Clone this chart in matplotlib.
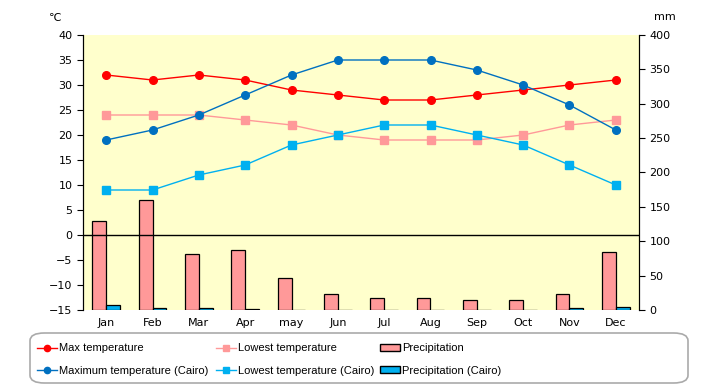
import matplotlib
matplotlib.use("Agg")
import matplotlib.pyplot as plt
import numpy as np
from matplotlib.lines import Line2D
from matplotlib.patches import Patch, FancyBboxPatch

months = ["Jan", "Feb", "Mar", "Apr", "may", "Jun", "Jul", "Aug", "Sep", "Oct", "Nov", "Dec"]
max_temp = [32, 31, 32, 31, 29, 28, 27, 27, 28, 29, 30, 31]
low_temp = [24, 24, 24, 23, 22, 20, 19, 19, 19, 20, 22, 23]
max_cairo = [19, 21, 24, 28, 32, 35, 35, 35, 33, 30, 26, 21]
low_cairo = [9, 9, 12, 14, 18, 20, 22, 22, 20, 18, 14, 10]
precip = [130, 160, 82, 87, 47, 23, 17, 18, 15, 14, 23, 84]
precip_cairo = [7, 3, 3, 1, 0, 0, 0, 0, 0, 0.5, 3, 5]

plt.rcParams['font.family'] = ['DejaVu Sans']
fig = plt.figure(figsize=(7.2, 3.85), dpi=100)
ax = fig.add_axes([83/720, 75/385, 556/720, 275/385])
ax.set_facecolor("#FFFFCC")
x = np.arange(len(months))
bw = 0.3
ax.bar(x - bw/2, precip, bw, color="#FF9999", edgecolor="black", linewidth=0.9, zorder=2)
ax.bar(x + bw/2, precip_cairo, bw, color="#00B0F0", edgecolor="black", linewidth=0.9, zorder=2)
ax.set_ylim(0, 400)
ax.set_yticks(np.arange(0, 401, 50))
ax.set_xlim(-0.5, 11.5)
ax.set_xticks(x)
ax.set_xticklabels(months, fontsize=8)
ax.tick_params(axis='x', length=0, pad=6)

ax2 = ax.twinx()
ax.yaxis.tick_right()
ax.yaxis.set_label_position('right')
ax2.yaxis.tick_left()
ax2.yaxis.set_label_position('left')
ax.tick_params(axis='y', labelsize=8, length=4, width=0.8, direction='out')
ax2.set_ylim(-15, 40)
ax2.set_yticks(np.arange(-15, 41, 5))
ax2.tick_params(axis='y', labelsize=8, length=4, width=0.8, direction='out')
ax2.axhline(0, color="black", linewidth=1, zorder=1)
ms = 5.5
ax2.plot(x, max_temp, color="#FF0000", marker="o", markersize=ms, linewidth=1.0, zorder=5)
ax2.plot(x, low_temp, color="#FF9999", marker="s", markersize=ms, linewidth=1.0, zorder=4)
ax2.plot(x, max_cairo, color="#0070C0", marker="o", markersize=ms, linewidth=1.0, zorder=5)
ax2.plot(x, low_cairo, color="#00B0F0", marker="s", markersize=ms, linewidth=1.0, zorder=4)

for a in (ax, ax2):
    a.spines['top'].set_visible(False)
    a.spines['bottom'].set_visible(False)
    a.spines['left'].set_color('black')
    a.spines['right'].set_color('black')

fig.text(55/720, 1 - 18/385, "℃", fontsize=8, ha='center', va='center')
fig.text(665/720, 1 - 17/385, "mm", fontsize=8, ha='center', va='center')

box = FancyBboxPatch((30/720, 2/385), 658/720, 50/385, transform=fig.transFigure,
                     boxstyle="round,pad=0,rounding_size=0.02", facecolor="white",
                     edgecolor="#AAAAAA", linewidth=1.2)
fig.patches.append(box)

handles = [
    Line2D([], [], color="#FF0000", marker="o", markersize=4.5, linewidth=1.0),
    Line2D([], [], color="#0070C0", marker="o", markersize=4.5, linewidth=1.0),
    Line2D([], [], color="#FF9999", marker="s", markersize=4.5, linewidth=1.0),
    Line2D([], [], color="#00B0F0", marker="s", markersize=4.5, linewidth=1.0),
    Patch(facecolor="#FF9999", edgecolor="black"),
    Patch(facecolor="#00B0F0", edgecolor="black"),
]
labels = ["Max temperature", "Maximum temperature (Cairo)", "Lowest temperature",
          "Lowest temperature (Cairo)", "Precipitation", "Precipitation (Cairo)"]
col_x = [37, 216, 380]
for i, cx in enumerate(col_x):
    fig.legend(handles[2*i:2*i+2], labels[2*i:2*i+2], loc='center left', ncol=1,
               bbox_to_anchor=(cx/720, 1 - 359.5/385),
               prop={'family': ['Liberation Sans', 'DejaVu Sans'], 'size': 8},
               frameon=False, handlelength=1.8, handletextpad=0.15,
               borderaxespad=0, borderpad=0, labelspacing=1.1,
               handleheight=0.6)

fig.savefig("out.png", dpi=100)
